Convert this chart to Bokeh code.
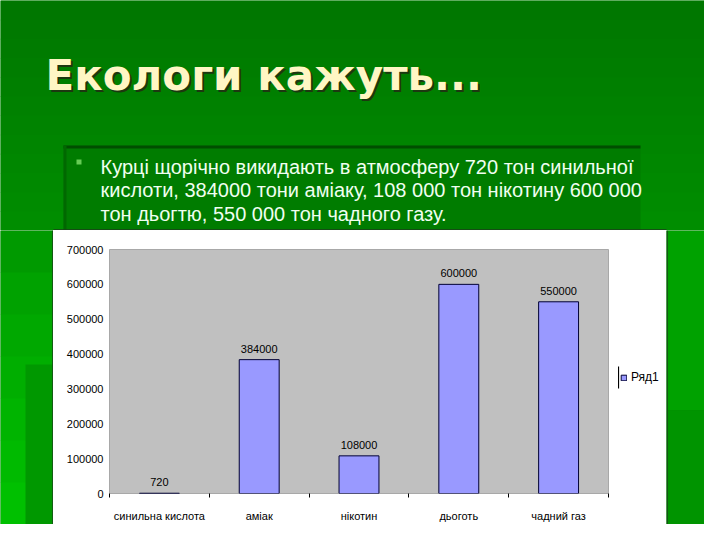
from bokeh.plotting import figure
from bokeh.layouts import column, row
from bokeh.models import (Range1d, FixedTicker, NumeralTickFormatter, Label,
                          Legend, LegendItem, ColumnDataSource)
from bokeh.core.properties import value
from bokeh.embed import file_html
from bokeh.resources import INLINE

# ---- data ----
categories = ["синильна кислота", "аміак", "нікотин", "дьоготь", "чадний газ"]
values = [720, 384000, 108000, 600000, 550000]
value_labels = ["720", "384000", "108000", "600000", "550000"]
y_ticks = [0, 100000, 200000, 300000, 400000, 500000, 600000, 700000]
series_name = "Ряд1"
title_text = "Екологи кажуть..."
bullet_lines = [
    "Курці щорічно викидають в атмосферу 720 тон синильної",
    "кислоти, 384000 тони аміаку, 108 000 тон нікотину 600 000",
    "тон дьогтю, 550 000 тон чадного газу.",
]

FONT = "Liberation Sans"
W, H = 704, 524
TOP_H = 230
PX_L, PX_R = 53, 666          # chart panel x extent (canvas px)
LEG_L = 614                   # start of legend column
BOT_H = H - TOP_H
BAR_FILL = "#9999ff"
BAR_LINE = "#000033"


def deco_fig(x0, x1, y0, y1, bg="#008000"):
    f = figure(width=x1 - x0, height=y1 - y0, output_backend="svg",
               toolbar_location=None, x_axis_type=None, y_axis_type=None,
               x_range=Range1d(x0, x1), y_range=Range1d(y1, y0),
               min_border=0, frame_align=False)
    f.outline_line_color = None
    f.grid.visible = False
    f.border_fill_color = bg
    f.background_fill_color = bg
    return f


def strips(f, x0, x1, y0, y1, cols):
    n = len(cols)
    step = (y1 - y0) / n
    f.quad(left=[x0] * n, right=[x1] * n,
           top=[y0 + i * step for i in range(n)],
           bottom=[y0 + (i + 1) * step + 0.6 for i in range(n)],
           fill_color=cols, line_color=None)


# ---------- top part: title + bullet ----------
top = deco_fig(0, W, 0, TOP_H)
strips(top, 0, W, 0, TOP_H,
       ["#007700", "#007900", "#007b00", "#007d00", "#007f00", "#008100",
        "#008300", "#008500", "#008700", "#008900", "#008b00", "#008d00"])
# shadow box behind the text
top.quad(left=[63], right=[640], top=[145], bottom=[TOP_H + 1],
         fill_color="#007c00", line_color=None)
top.quad(left=[63], right=[640], top=[145], bottom=[148],
         fill_color="#004e00", line_color=None)
top.quad(left=[63], right=[66], top=[145], bottom=[TOP_H + 1],
         fill_color="#006800", line_color=None)
# top edge of the chart panel
top.quad(left=[PX_L], right=[PX_R], top=[TOP_H - 1.2], bottom=[TOP_H + 1],
         fill_color="#1c3c1c", line_color=None)

top.add_layout(Label(x=47, y=77, text=title_text, text_font="DejaVu Sans",
                     text_font_style="bold", text_font_size="42px",
                     text_color="#1c3810", text_baseline="alphabetic"))
top.add_layout(Label(x=45, y=75, text=title_text, text_font="DejaVu Sans",
                     text_font_style="bold", text_font_size="42px",
                     text_color="#fff6c4", text_baseline="alphabetic"))

top.quad(left=[76], right=[81], top=[159], bottom=[164],
         fill_color="#66cc55", line_color=None)
for i, line in enumerate(bullet_lines):
    top.add_layout(Label(x=100, y=166 + i * 23.5, text=line, text_font=FONT,
                         text_font_size="20px", text_color="#f0fff0",
                         text_baseline="alphabetic"))

# ---------- left & right strips ----------
left = deco_fig(0, PX_L, TOP_H, H)
strips(left, 0, PX_L, TOP_H, H,
       ["#009a00", "#00a200", "#00a800", "#00ae00", "#00b400", "#00ba00", "#00c000"])
left.quad(left=[25], right=[52], top=[364], bottom=[H + 1],
          fill_color="#009800", line_color=None)
left.quad(left=[PX_L - 1.2], right=[PX_L], top=[TOP_H], bottom=[H + 1],
          fill_color="#1c3c1c", line_color=None)

right = deco_fig(PX_R, W, TOP_H, H)
right.quad(left=[PX_R], right=[W], top=[TOP_H], bottom=[410],
           fill_color="#00a200", line_color=None)
right.quad(left=[PX_R], right=[W], top=[410], bottom=[H + 1],
           fill_color="#009400", line_color=None)
right.quad(left=[PX_R], right=[PX_R + 1.2], top=[TOP_H], bottom=[H + 1],
           fill_color="#1c3c1c", line_color=None)

# ---------- chart ----------
FL, FR, FT, FB = 109, 608, 249, 498   # grey plot area, canvas px
p = figure(width=LEG_L - PX_L, height=BOT_H, output_backend="svg",
           toolbar_location=None, frame_align=False,
           x_range=Range1d(-0.5, len(categories) - 0.5),
           y_range=Range1d(0, 700000),
           min_border_left=FL - PX_L, min_border_right=LEG_L - FR,
           min_border_top=FT - TOP_H, min_border_bottom=H - FB)
p.border_fill_color = "#ffffff"
p.background_fill_color = "#c0c0c0"
p.outline_line_color = "#a8a8a8"
p.xgrid.visible = False
p.ygrid.visible = False

xs = list(range(len(categories)))
src = ColumnDataSource(dict(x=xs, top=values, lab=value_labels))
r = p.vbar(x="x", top="top", width=0.4, bottom=0, source=src,
           fill_color=BAR_FILL, line_color=BAR_LINE, line_width=1)
p.text(x="x", y="top", text="lab", source=src, text_font=value(FONT),
       text_font_size="11px", text_color="#000000", text_align="center",
       text_baseline="bottom", y_offset=-7)

xa = p.xaxis[0]
xa.ticker = FixedTicker(ticks=xs, minor_ticks=[i - 0.5 for i in range(len(categories) + 1)])
xa.major_label_overrides = {i: c for i, c in enumerate(categories)}
xa.major_tick_out = 0
xa.major_tick_in = 0
xa.minor_tick_out = 4
xa.minor_tick_in = 0
xa.minor_tick_line_color = "#000000"
xa.axis_line_color = None
xa.major_label_standoff = 12
xa.major_label_text_font = FONT
xa.major_label_text_font_size = "11px"
xa.major_label_text_color = "#000000"

ya = p.yaxis[0]
ya.ticker = FixedTicker(ticks=y_ticks)
ya.formatter = NumeralTickFormatter(format="0")
ya.major_tick_out = 0
ya.major_tick_in = 0
ya.minor_tick_line_color = None
ya.axis_line_color = None
ya.major_label_standoff = 6
ya.major_label_text_font = FONT
ya.major_label_text_font_size = "11px"
ya.major_label_text_color = "#000000"

# ---------- legend column ----------
leg = deco_fig(LEG_L, PX_R, TOP_H, H, bg="#ffffff")
proxy = leg.vbar(x=[10000], top=[10000], bottom=[10001], width=1,
                 fill_color=BAR_FILL, line_color=BAR_LINE)
leg.quad(left=[617.5], right=[618.6], top=[366], bottom=[388],
         fill_color="#000000", line_color=None)
legend = Legend(items=[LegendItem(label=series_name, renderers=[proxy])],
                location=(6, 140), glyph_width=7, glyph_height=7,
                label_text_font=FONT, label_text_font_size="12px",
                label_text_color="#000000",
                label_standoff=4, padding=2, margin=0, spacing=0,
                border_line_color=None, background_fill_alpha=0,
                label_height=12)
leg.add_layout(legend, "center")

layout = column(top, row(left, p, leg, right, spacing=0), spacing=0)
open("out.html", "w").write(file_html(layout, INLINE))
